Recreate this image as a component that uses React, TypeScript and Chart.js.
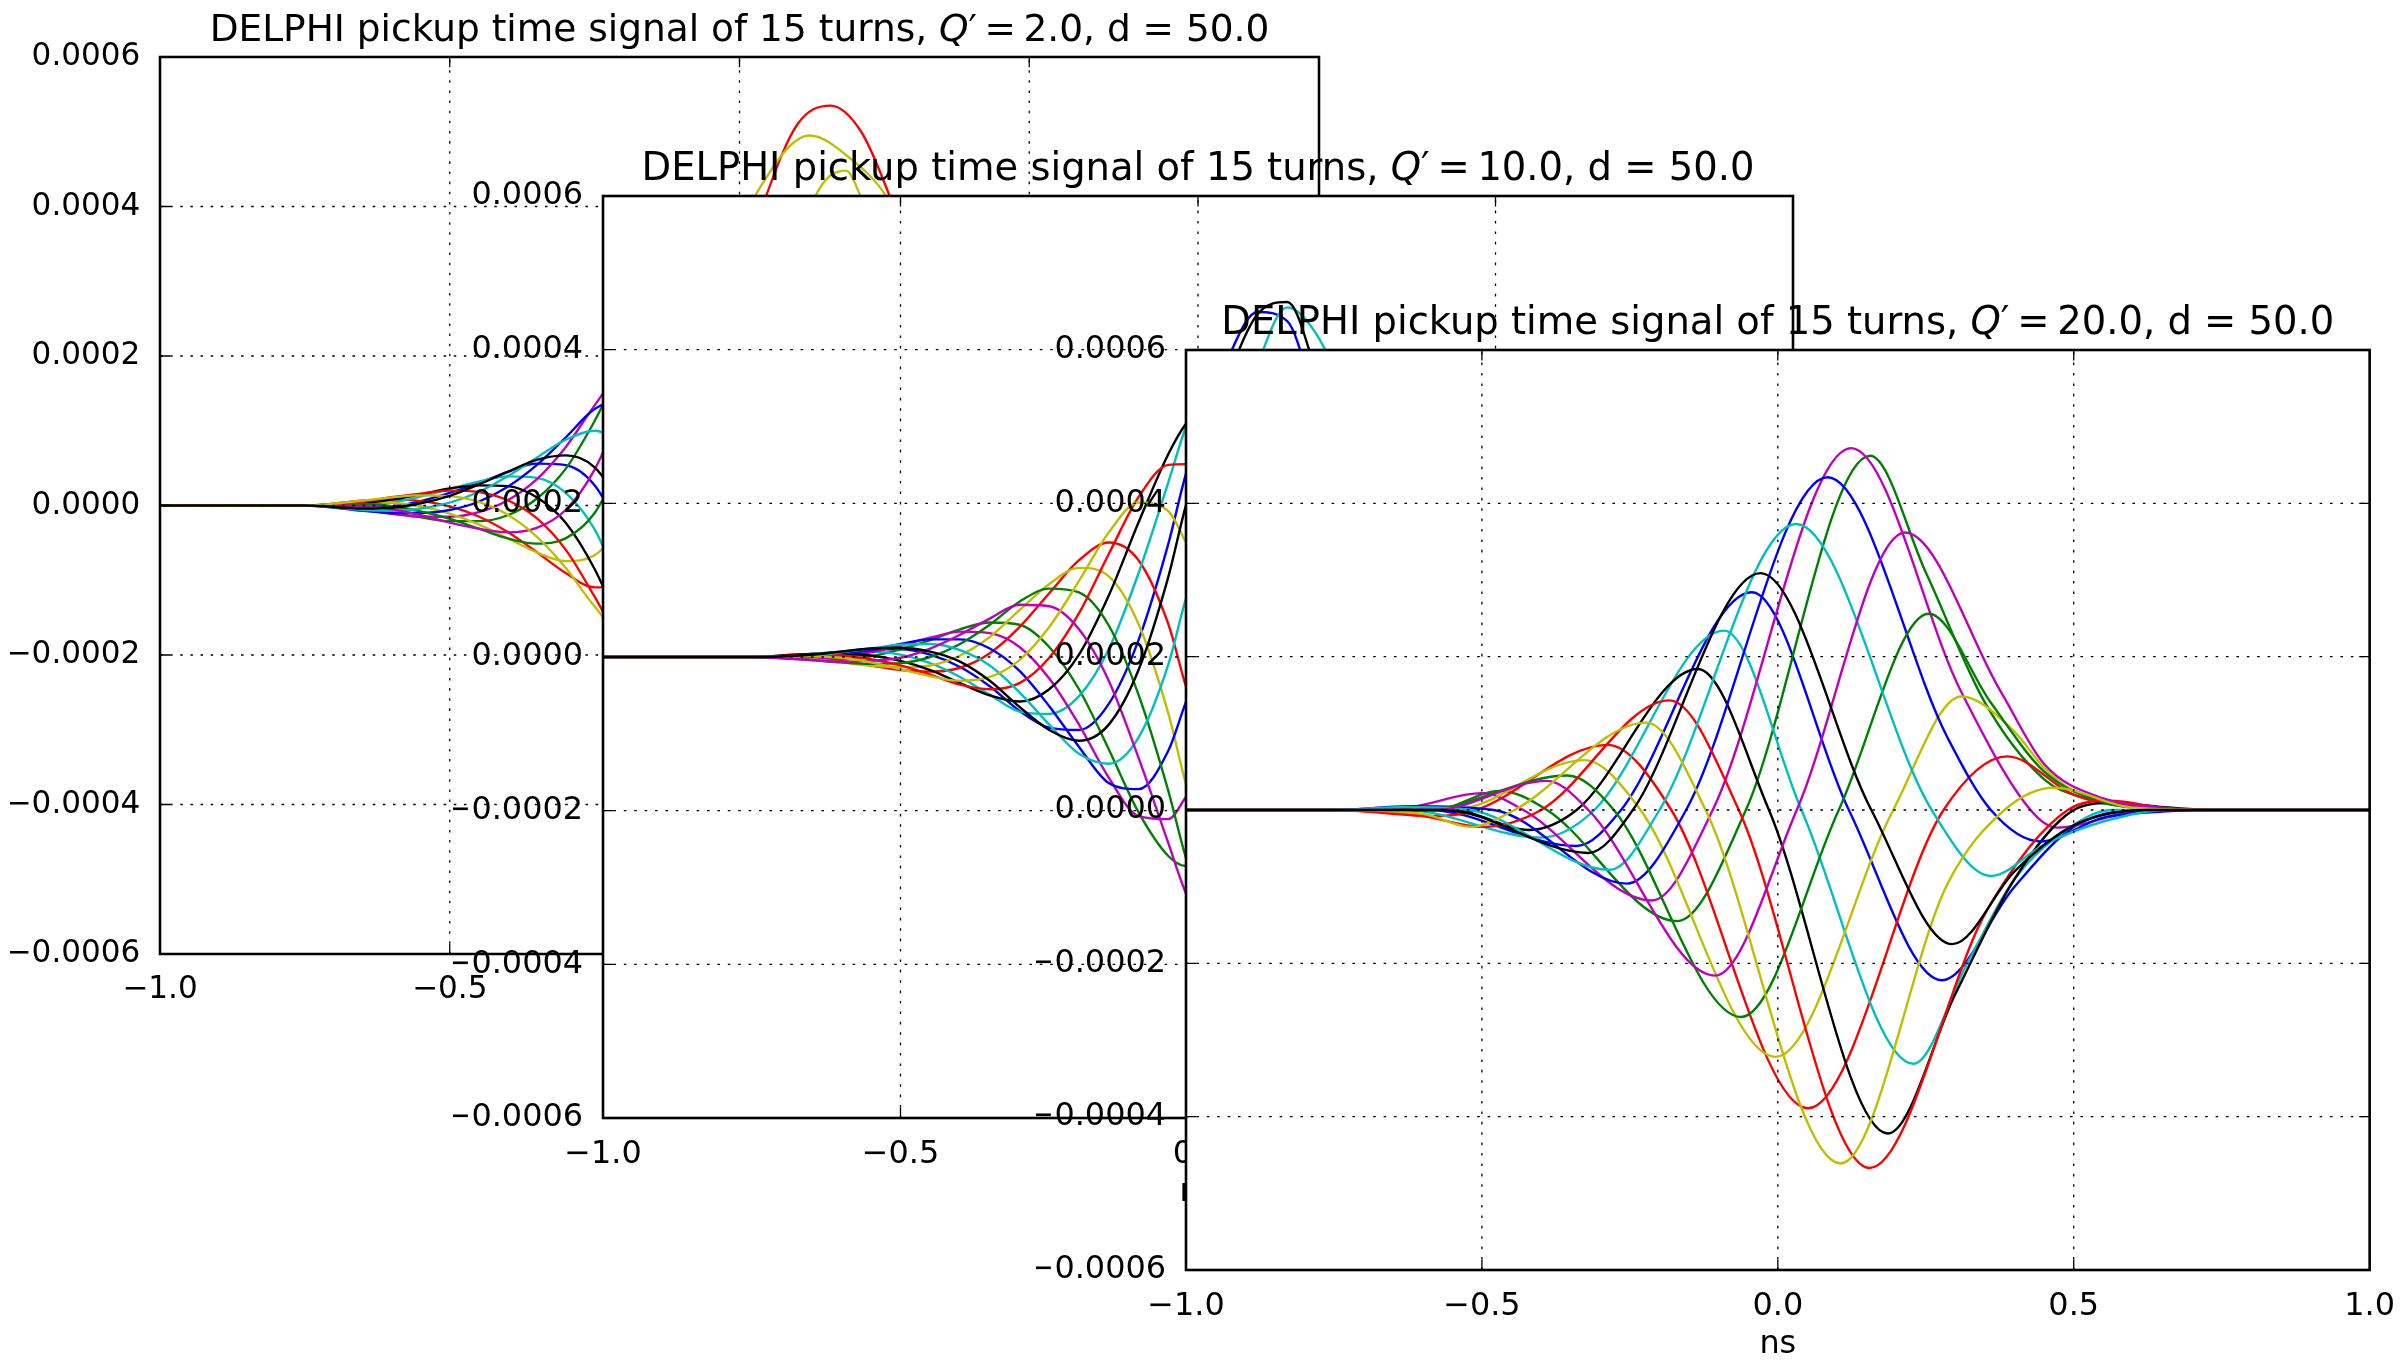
import React, { useEffect, useRef } from 'react';
import { Chart, registerables } from 'chart.js';

Chart.register(...registerables);

// ---------------------------------------------------------------------------
// Shared axis content
// ---------------------------------------------------------------------------
const UNIT = 1e-5; // every series value below is expressed in units of 1e-5

const X_TICKS = [-1, -0.5, 0, 0.5, 1];
const X_TICK_LABELS = ['\u22121.0', '\u22120.5', '0.0', '0.5', '1.0'];
const Y_TICKS = [-0.0006, -0.0004, -0.0002, 0, 0.0002, 0.0004, 0.0006];
const Y_TICK_LABELS = ['\u22120.0006', '\u22120.0004', '\u22120.0002', '0.0000', '0.0002', '0.0004', '0.0006'];
const X_LABEL = 'ns';
const TITLE_PREFIX = 'DELPHI pickup time signal of 15 turns, ';
const TITLE_SUFFIX = ', d = 50.0';
const CHROMATICITIES = ['2.0', '10.0', '20.0'];
const TURN_NAMES = ['turn 1', 'turn 2', 'turn 3', 'turn 4', 'turn 5', 'turn 6', 'turn 7',
  'turn 8', 'turn 9', 'turn 10', 'turn 11', 'turn 12', 'turn 13', 'turn 14'];

// ---------------------------------------------------------------------------
// Panel 1 : Q' = 2.0  (shared x grid + a few lines with their own points)
// ---------------------------------------------------------------------------
const Q2_X = [-1, -0.75, -0.65, -0.6, -0.55, -0.5, -0.45, -0.4, -0.35, -0.3, -0.25, -0.2, -0.1, 0, 0.1, 0.2, 0.3, 0.4, 0.5, 0.6, 0.75, 1];
const Q2_B1 = [0, 0, -0.3, -0.1, 0.6, 1.7, 3.0, 4.5, 5.6, 5.4, 2.7, -4.3, -22.6, -40.3, -46.5, -29.4, -2.4, 10.6, 8.8, 3.5, 0, 0];
const Q2_G2 = [0, 0, -0.5, -1.0, -1.6, -2.1, -2.1, -1.3, 0.9, 4.9, 11.3, 18.8, 28.1, 22.0, 0, -26.8, -34.4, -21.8, -7.7, -1.1, 0, 0];
const Q2_R3 = [[-1, 0], [-0.75, 0], [-0.65, 0.66], [-0.6, 0.79], [-0.55, 0.59], [-0.5, -0.12], [-0.45, -1.47], [-0.4, -3.54], [-0.35, -6.22], [-0.3, -9.03], [-0.25, -10.96], [-0.2, -9.61], [-0.1, 8], [0, 30], [0.045, 41.2], [0.1, 51], [0.157, 53.5], [0.21, 50], [0.26, 41.2], [0.3, 32], [0.4, 10], [0.5, -3], [0.6, -2.7], [0.75, 0], [1, 0]];
const Q2_C4 = [0, 0, 0, 0.4, 1.2, 2.2, 3.2, 3.9, 3.7, 1.7, -3.2, -11.9, -29.5, -39.7, -34.3, -9.4, 14.0, 17.8, 10.0, 3.1, 0, 0];
const Q2_M5 = [0, 0, -0.6, -1.1, -1.5, -1.5, -0.9, 0.7, 3.5, 7.8, 13.4, 18.2, 19.7, 5.1, -21.3, -42.2, -38.0, -18.6, -4.3, 0.4, 0, 0];
const Q2_Y6 = [[-1, 0], [-0.75, 0], [-0.65, 0.5], [-0.6, 0.39], [-0.55, -0.1], [-0.5, -1.08], [-0.45, -2.53], [-0.4, -4.39], [-0.35, -6.27], [-0.3, -7.44], [-0.25, -6.66], [-0.2, -1.67], [-0.1, 16], [0, 37], [0.025, 41.2], [0.121, 49.5], [0.19, 46.5], [0.255, 41.2], [0.3, 34], [0.4, 12], [0.5, -5], [0.6, -3.4], [0.75, 0], [1, 0]];
const Q2_K7 = [0, 0, 0.3, 0.8, 1.5, 2.3, 2.7, 2.6, 1.1, -2.3, -8.5, -17.0, -30.8, -31.6, -15.5, 12.5, 27.7, 21.6, 9.3, 2.1, 0, 0];
const Q2_B8 = [0, 0, -0.7, -1.0, -1.0, -0.6, 0.5, 2.5, 5.4, 9.1, 12.9, 14.2, 7.7, -12.7, -38.6, -49.6, -34.4, -11.8, 0, 1.9, 0, 0];
const Q2_G9 = [0, 0, 0.2, -0.1, -0.8, -1.8, -3.1, -4.4, -5.1, -4.4, -1.0, 6.5, 25.1, 39.5, 39.0, 24.1, -2.4, -12.9, -9.3, -3.4, 0, 0];
const Q2_R10 = [0, 0, 0.5, 1.1, 1.6, 2.0, 1.8, 0.7, -1.7, -5.9, -12.2, -19.0, -26.2, -17.5, 6.3, 31.9, 36.1, 21.3, 6.9, 0.7, 0, 0];
const Q2_C11 = [0, 0, -0.6, -0.7, -0.4, 0.4, 1.8, 3.9, 6.4, 8.8, 10.0, 7.4, -5.8, -28.1, -48.5, -47.6, -24.2, -2.8, 4.3, 3.0, 0, 0];
const Q2_M12 = [0, 0, -0.1, -0.5, -1.3, -2.3, -3.1, -3.6, -3.0, -0.6, 4.8, 13.5, 30.4, 38.1, 29.4, 3.2, -18.3, -19.3, -10.0, -2.8, 0, 0];
const Q2_Y13 = [[-1, 0], [-0.75, 0], [-0.65, 0.67], [-0.6, 1.09], [-0.55, 1.35], [-0.5, 1.26], [-0.45, 0.48], [-0.4, -1.23], [-0.35, -4.15], [-0.3, -8.33], [-0.25, -13.5], [-0.2, -17.37], [-0.1, -14], [0, 4], [0.1, 33], [0.13, 41.2], [0.184, 44.8], [0.21, 41.2], [0.3, 25], [0.4, 10], [0.5, 2], [0.6, -0.9], [0.75, 0], [1, 0]];
const Q2_K14 = [0, 0, -0.4, -0.3, 0.3, 1.3, 2.8, 4.5, 6.1, 6.7, 5.1, -0.7, -18.2, -38.1, -49.1, -36.5, -9.5, 6.8, 7.7, 3.5, 0, 0];

// ---------------------------------------------------------------------------
// Panel 2 : Q' = 10.0  (shared x grid)
// ---------------------------------------------------------------------------
const Q10_X = [-1, -0.75, -0.65, -0.6, -0.55, -0.5, -0.45, -0.4, -0.35, -0.3, -0.25, -0.2, -0.15, -0.1, -0.05, -0.02, 0, 0.05, 0.1, 0.15, 0.2, 0.25, 0.3, 0.35, 0.4, 0.5, 0.6, 0.7, 0.8, 1];
const Q10_B1 = [0, 0, 0.4, 0.7, 1.0, 1.0, 0.3, -1.3, -3.8, -7.0, -9.2, -9.5, -6.1, 2.2, 14.7, 23.9, 28.3, 38.8, 44.9, 43.7, 32.4, 19.3, 7.2, -1.4, -5.5, -5.1, -1.8, -0.3, 0, 0];
const Q10_G2 = [0, 0, -0.3, -0.3, 0.1, 1.0, 2.2, 3.6, 4.5, 4.2, 1.3, -4.2, -12.0, -20.2, -25.9, -27.2, -27.1, -23.5, -13.9, 0, 13.0, 21.2, 23.5, 20.9, 15.0, 4.9, 0.6, -0.1, 0, 0];
const Q10_R3 = [0, 0, -0.1, -0.5, -1.1, -1.7, -1.9, -1.4, 0.5, 3.9, 8.3, 12.6, 14.9, 12.6, 4.3, -3.9, -8.3, -21.4, -34.7, -43.7, -41.9, -34.9, -24.5, -14.0, -5.5, 1.5, 1.4, 0.4, 0, 0];
const Q10_C4 = [0, 0, 0.4, 0.6, 0.7, 0.3, -0.8, -2.6, -4.9, -7.1, -7.4, -5.1, 1.0, 10.9, 22.7, 30.0, 33.2, 39.3, 39.4, 32.2, 17.9, 4.5, -5.4, -10.6, -10.9, -6.0, -1.6, -0.2, 0, 0];
const Q10_M5 = [0, 0, -0.2, 0.1, 0.6, 1.5, 2.5, 3.3, 3.1, 1.3, -2.8, -8.8, -15.7, -20.7, -21.1, -18.2, -16.2, -7.5, 5.6, 20.0, 28.8, 31.5, 28.5, 21.8, 13.6, 2.9, -0.2, -0.3, 0, 0];
const Q10_Y6 = [0, 0, -0.3, -0.7, -1.1, -1.3, -1.1, 0.2, 2.6, 6.1, 9.5, 11.6, 10.5, 4.3, -7.3, -16.6, -21.3, -33.8, -43.6, -46.9, -39.1, -27.8, -15.5, -5.5, 1.0, 3.8, 1.7, 0.4, 0, 0];
const Q10_K7 = [0, 0, 0.4, 0.4, 0.2, -0.5, -1.7, -3.4, -5.0, -5.8, -4.2, 0.3, 8.0, 17.5, 26.4, 30.4, 31.9, 32.4, 26.5, 14.5, 0, -11.1, -17.1, -17.8, -14.3, -5.7, -1.1, 0, 0, 0];
const Q10_B8 = [0, 0, 0, 0.4, 0.9, 1.7, 2.3, 2.3, 1.1, -1.8, -6.4, -11.7, -16.4, -17.2, -12.2, -5.8, -2.1, 10.0, 24.1, 36.2, 39.1, 35.9, 28.1, 18.6, 9.6, 0.4, -1.0, -0.4, 0, 0];
const Q10_G9 = [0, 0, -0.4, -0.7, -0.9, -0.8, 0, 1.7, 4.2, 7.2, 8.9, 8.4, 4.1, -4.9, -17.4, -26.2, -30.3, -39.7, -44.2, -41.2, -28.8, -15.3, -3.6, 4.1, 7.2, 5.4, 1.8, 0.3, 0, 0];
const Q10_R10 = [0, 0, 0.3, 0.2, -0.3, -1.1, -2.3, -3.6, -4.2, -3.4, -0.1, 5.7, 13.4, 20.8, 25.0, 25.1, 24.4, 19.3, 8.4, -5.9, -17.9, -24.7, -25.4, -21.6, -14.9, -4.4, -0.3, 0.2, 0, 0];
const Q10_C11 = [0, 0, 0.2, 0.6, 1.1, 1.6, 1.7, 0.9, -1.1, -4.6, -8.8, -12.6, -13.9, -10.5, -1.0, 7.7, 12.3, 25.5, 38.0, 45.5, 41.9, 33.5, 22.4, 11.8, 3.7, -2.2, -1.5, -0.4, 0, 0];
const Q10_M12 = [0, 0, -0.4, -0.6, -0.5, -0.1, 1.1, 2.9, 5.0, 6.8, 6.6, 3.6, -3.1, -13.1, -24.2, -30.8, -33.5, -38.0, -36.4, -27.6, -13.0, 0, 9.0, 12.9, 12.1, 6.0, 1.5, 0.1, 0, 0];
const Q10_Y13 = [0, 0, 0.1, -0.1, -0.7, -1.6, -2.5, -3.1, -2.6, -0.4, 3.9, 9.9, 16.2, 20.1, 19.0, 14.9, 12.3, 2.5, -11.2, -25.2, -32.4, -33.5, -28.9, -21.3, -12.7, -2.2, 0.5, 0.3, 0, 0];
const Q10_K14 = [0, 0, 0.3, 0.7, 1.1, 1.2, 0.7, -0.6, -3.1, -6.5, -9.5, -10.9, -8.8, -1.7, 10.4, 19.8, 24.4, 36.2, 44.6, 46.2, 36.8, 24.7, 12.4, 2.8, -2.8, -4.4, -1.8, -0.4, 0, 0];

// ---------------------------------------------------------------------------
// Panel 3 : Q' = 20.0  ([x, value] points per turn)
// ---------------------------------------------------------------------------
const Q20_B1 = [[-1, 0], [-0.75, 0], [-0.59, 0], [-0.34, -4.7], [-0.265, 0], [-0.044, 28.4], [0.12, 0], [0.277, -22.2], [0.4, -10], [0.5, -2.2], [0.61, 0], [0.75, 0], [1, 0]];
const Q20_G2 = [[-1, 0], [-0.75, 0], [-0.58, 0], [-0.47, 2.5], [-0.39, 0], [-0.17, -14.5], [-0.054, 0], [0.156, 46.2], [0.25, 31], [0.35, 14], [0.45, 4], [0.52, 1.5], [0.62, 0.2], [0.75, 0], [1, 0]];
const Q20_R3 = [[-1, 0], [-0.75, 0], [-0.58, -0.8], [-0.51, 0], [-0.288, 8.5], [-0.18, 0], [0.051, -38.9], [0.28, 0], [0.388, 7.0], [0.5, 2.0], [0.6, 0.4], [0.75, 0], [1, 0]];
const Q20_C4 = [[-1, 0], [-0.75, 0], [-0.63, 0], [-0.4, -3.6], [-0.31, 0], [-0.091, 23.4], [0.04, 0], [0.229, -33.1], [0.32, -20], [0.4, -9], [0.48, -3], [0.565, 0], [0.75, 0], [1, 0]];
const Q20_M5 = [[-1, 0], [-0.75, 0], [-0.62, 0.4], [-0.5, 2.2], [-0.43, 0], [-0.213, -11.8], [-0.11, 0], [0.124, 47.2], [0.31, 15.4], [0.427, 0], [0.472, -2.3], [0.6, -0.3], [0.75, 0], [1, 0]];
const Q20_Y6 = [[-1, 0], [-0.75, 0], [-0.55, 0], [-0.327, 6.5], [-0.232, 0], [-0.004, -32.2], [0.195, 0], [0.31, 14.8], [0.4, 10.2], [0.45, 5.5], [0.5, 2.5], [0.57, 0.9], [0.65, 0.2], [0.75, 0], [1, 0]];
const Q20_K7 = [[-1, 0], [-0.75, 0], [-0.55, 0], [-0.42, -2.6], [-0.34, 0], [-0.135, 18.4], [-0.015, 0], [0.186, -42.2], [0.3, -24], [0.4, -9], [0.5, 0], [0.56, 0.9], [0.68, 0.2], [0.75, 0], [1, 0]];
const Q20_B8 = [[-1, 0], [-0.75, 0], [-0.62, 0.5], [-0.48, 0], [-0.255, -9.6], [-0.155, 0], [0.084, 43.4], [0.287, 9.4], [0.36, 0], [0.444, -4.1], [0.55, -1.0], [0.65, -0.2], [0.75, 0], [1, 0]];
const Q20_G9 = [[-1, 0], [-0.75, 0], [-0.6, 0], [-0.355, 4.5], [-0.277, 0], [-0.062, -27], [0.103, 0], [0.255, 25.6], [0.36, 14], [0.45, 5], [0.55, 1.0], [0.65, 0.2], [0.75, 0], [1, 0]];
const Q20_R10 = [[-1, 0], [-0.75, 0], [-0.6, -0.8], [-0.5, -2.2], [-0.4, 0], [-0.183, 14.3], [-0.066, 0], [0.155, -46.7], [0.354, -13], [0.49, 0], [0.56, 1.2], [0.66, 0.2], [0.75, 0], [1, 0]];
const Q20_C11 = [[-1, 0], [-0.75, 0], [-0.63, 0.4], [-0.52, 0], [-0.284, -7.8], [-0.2, 0], [0.031, 37.3], [0.26, 0], [0.36, -8.6], [0.45, -4.5], [0.55, -1.5], [0.66, 0], [0.75, 0], [1, 0]];
const Q20_M12 = [[-1, 0], [-0.75, 0], [-0.58, 0], [-0.39, 3.8], [-0.32, 0], [-0.106, -21.6], [0.032, 0], [0.215, 36.2], [0.377, 15.4], [0.45, 6], [0.55, 1.5], [0.65, 0.3], [0.75, 0], [1, 0]];
const Q20_Y13 = [[-1, 0], [-0.75, 0], [-0.6, -0.5], [-0.52, -2.2], [-0.445, 0], [-0.222, 11.4], [-0.122, 0], [0.106, -46.1], [0.287, -9.6], [0.383, 0], [0.467, 2.9], [0.6, 0.3], [0.75, 0], [1, 0]];
const Q20_K14 = [[-1, 0], [-0.75, 0], [-0.565, 0], [-0.32, -5.6], [-0.245, 0], [-0.029, 30.9], [0.158, 0], [0.295, -17.5], [0.4, -8], [0.5, -2], [0.625, 0], [0.75, 0], [1, 0]];

// ---------------------------------------------------------------------------
// Layout & style (kept apart from the data)
// ---------------------------------------------------------------------------
const PAGE_W = 2405;
const PAGE_H = 1363;
const BOXES = [
  { left: 160, top: 57, right: 1319, bottom: 954 },
  { left: 603, top: 196, right: 1793, bottom: 1118 },
  { left: 1186, top: 350, right: 2376, bottom: 1270 },
];
const PANEL_SCALE = [0.974, 1, 1]; // the first figure was pasted slightly smaller
const Y_AXIS_W = 150;
const X_AXIS_H = 60;
const FONT_FAMILY = "'DejaVu Sans', 'Liberation Sans', sans-serif";
const TICK_FONT_PX = 31.9;
const TITLE_FONT_PX = 38.5;
const TITLE_GAP = 16.4;
const XLABEL_BASELINE_GAP = 83;
const LINE_W = 2.4;
const SPINE_W = 2.6;
const TICK_LEN = 10.4;
const TICK_W = 1.3;
const GRID_W = 1.3;
const GRID_DASH = [2.6, 7.8];
const TURN_COLORS = ['#0000ff', '#008000', '#ff0000', '#00bfbf', '#bf00bf', '#bfbf00', '#000000'];

function onGrid(xs, ys) {
  const n = Math.min(xs.length, ys.length);
  const out = [];
  for (let i = 0; i < n; i++) out.push([xs[i], ys[i]]);
  return out;
}

const PANEL_LINES = [
  [onGrid(Q2_X, Q2_B1), onGrid(Q2_X, Q2_G2), Q2_R3, onGrid(Q2_X, Q2_C4), onGrid(Q2_X, Q2_M5), Q2_Y6, onGrid(Q2_X, Q2_K7),
    onGrid(Q2_X, Q2_B8), onGrid(Q2_X, Q2_G9), onGrid(Q2_X, Q2_R10), onGrid(Q2_X, Q2_C11), onGrid(Q2_X, Q2_M12), Q2_Y13, onGrid(Q2_X, Q2_K14)],
  [Q10_B1, Q10_G2, Q10_R3, Q10_C4, Q10_M5, Q10_Y6, Q10_K7, Q10_B8, Q10_G9, Q10_R10, Q10_C11, Q10_M12, Q10_Y13, Q10_K14].map((ys) => onGrid(Q10_X, ys)),
  [Q20_B1, Q20_G2, Q20_R3, Q20_C4, Q20_M5, Q20_Y6, Q20_K7, Q20_B8, Q20_G9, Q20_R10, Q20_C11, Q20_M12, Q20_Y13, Q20_K14],
];

const font = (px, italic) => `${italic ? 'italic ' : ''}${px}px ${FONT_FAMILY}`;

const decorPlugin = {
  id: 'delphiDecor',
  beforeDraw(chart) {
    const { ctx, chartArea: a } = chart;
    ctx.save();
    ctx.fillStyle = '#ffffff';
    ctx.fillRect(a.left, a.top, a.right - a.left, a.bottom - a.top);
    ctx.restore();
  },
  afterDatasetsDraw(chart, args, opts) {
    const { ctx, chartArea: a } = chart;
    const k = opts.scale;
    const xs = chart.scales.x;
    const ys = chart.scales.y;
    ctx.save();
    // dotted grid
    ctx.strokeStyle = '#000000';
    ctx.lineWidth = GRID_W * k;
    ctx.setLineDash(GRID_DASH.map((d) => d * k));
    ctx.beginPath();
    X_TICKS.forEach((v) => {
      const px = xs.getPixelForValue(v);
      ctx.moveTo(px, a.bottom);
      ctx.lineTo(px, a.top);
    });
    Y_TICKS.forEach((v) => {
      const py = ys.getPixelForValue(v);
      ctx.moveTo(a.left, py);
      ctx.lineTo(a.right, py);
    });
    ctx.stroke();
    ctx.setLineDash([]);
    // inward ticks on all four sides
    ctx.lineWidth = TICK_W * k;
    const tl = TICK_LEN * k;
    ctx.beginPath();
    X_TICKS.forEach((v) => {
      const px = xs.getPixelForValue(v);
      ctx.moveTo(px, a.bottom);
      ctx.lineTo(px, a.bottom - tl);
      ctx.moveTo(px, a.top);
      ctx.lineTo(px, a.top + tl);
    });
    Y_TICKS.forEach((v) => {
      const py = ys.getPixelForValue(v);
      ctx.moveTo(a.left, py);
      ctx.lineTo(a.left + tl, py);
      ctx.moveTo(a.right, py);
      ctx.lineTo(a.right - tl, py);
    });
    ctx.stroke();
    // spines
    ctx.lineWidth = SPINE_W * k;
    ctx.strokeRect(a.left, a.top, a.right - a.left, a.bottom - a.top);
    ctx.restore();
  },
  afterDraw(chart, args, opts) {
    const { ctx, chartArea: a } = chart;
    const k = opts.scale;
    ctx.save();
    ctx.fillStyle = '#000000';
    ctx.textAlign = 'left';
    ctx.textBaseline = 'alphabetic';
    const parts = [
      { t: TITLE_PREFIX, it: false },
      { t: 'Q', it: true },
      { t: '\u2032', it: false },
      { t: '\u2009=\u2009', it: false },
      { t: opts.chroma + TITLE_SUFFIX, it: false },
    ];
    const size = TITLE_FONT_PX * k;
    const widths = parts.map((p) => {
      ctx.font = font(size, p.it);
      return ctx.measureText(p.t).width;
    });
    const total = widths.reduce((s, w) => s + w, 0);
    let x = (a.left + a.right) / 2 - total / 2;
    const base = a.top - TITLE_GAP * k;
    parts.forEach((p, i) => {
      ctx.font = font(size, p.it);
      ctx.fillText(p.t, x, base);
      x += widths[i];
    });
    ctx.font = font(TICK_FONT_PX * k, false);
    ctx.textAlign = 'center';
    ctx.fillText(X_LABEL, (a.left + a.right) / 2, a.bottom + XLABEL_BASELINE_GAP * k);
    ctx.restore();
  },
};

function buildConfig(panelIndex) {
  const box = BOXES[panelIndex];
  const k = PANEL_SCALE[panelIndex];
  const lines = PANEL_LINES[panelIndex];
  const n = lines.length;
  const datasets = lines.map((pts, i) => ({
    label: TURN_NAMES[i],
    data: pts.map(([x, y]) => ({ x, y: y * UNIT })),
    borderColor: TURN_COLORS[i % TURN_COLORS.length],
    backgroundColor: TURN_COLORS[i % TURN_COLORS.length],
    borderWidth: LINE_W * k,
    pointRadius: 0,
    pointHoverRadius: 0,
    fill: false,
    cubicInterpolationMode: 'monotone',
    order: n - i,
  }));
  const tickFont = { family: FONT_FAMILY, size: TICK_FONT_PX * k };
  return {
    type: 'line',
    data: { datasets },
    plugins: [decorPlugin],
    options: {
      animation: false,
      responsive: false,
      maintainAspectRatio: false,
      devicePixelRatio: 1,
      events: [],
      layout: {
        padding: {
          left: box.left - Y_AXIS_W,
          top: box.top,
          right: PAGE_W - box.right,
          bottom: PAGE_H - box.bottom - X_AXIS_H,
        },
      },
      plugins: {
        legend: { display: false },
        tooltip: { enabled: false },
        title: { display: false },
        delphiDecor: { chroma: CHROMATICITIES[panelIndex], scale: k },
      },
      scales: {
        x: {
          type: 'linear',
          min: -1,
          max: 1,
          grid: { display: false },
          border: { display: false },
          afterBuildTicks: (s) => { s.ticks = X_TICKS.map((v) => ({ value: v })); },
          afterFit: (s) => { s.height = X_AXIS_H; },
          ticks: {
            autoSkip: false,
            maxRotation: 0,
            padding: 10 * k,
            color: '#000000',
            font: tickFont,
            callback: (v, i) => X_TICK_LABELS[i],
          },
        },
        y: {
          type: 'linear',
          min: -0.0006,
          max: 0.0006,
          grid: { display: false },
          border: { display: false },
          afterBuildTicks: (s) => { s.ticks = Y_TICKS.map((v) => ({ value: v })); },
          afterFit: (s) => { s.width = Y_AXIS_W; },
          ticks: {
            autoSkip: false,
            padding: 12 * k,
            color: '#000000',
            font: tickFont,
            callback: (v, i) => Y_TICK_LABELS[i],
          },
        },
      },
    },
  };
}

export default function App() {
  const c1 = useRef(null);
  const c2 = useRef(null);
  const c3 = useRef(null);
  useEffect(() => {
    const refs = [c1, c2, c3];
    const charts = refs.map((r, i) => new Chart(r.current, buildConfig(i)));
    return () => charts.forEach((c) => c.destroy());
  }, []);
  const canvasStyle = (z) => ({ position: 'absolute', left: 0, top: 0, width: PAGE_W, height: PAGE_H, zIndex: z });
  return (
    <div style={{ position: 'fixed', left: 0, top: 0, width: PAGE_W, height: PAGE_H, background: '#ffffff', overflow: 'hidden' }}>
      <canvas ref={c1} width={PAGE_W} height={PAGE_H} style={canvasStyle(1)} />
      <canvas ref={c2} width={PAGE_W} height={PAGE_H} style={canvasStyle(2)} />
      <canvas ref={c3} width={PAGE_W} height={PAGE_H} style={canvasStyle(3)} />
    </div>
  );
}
